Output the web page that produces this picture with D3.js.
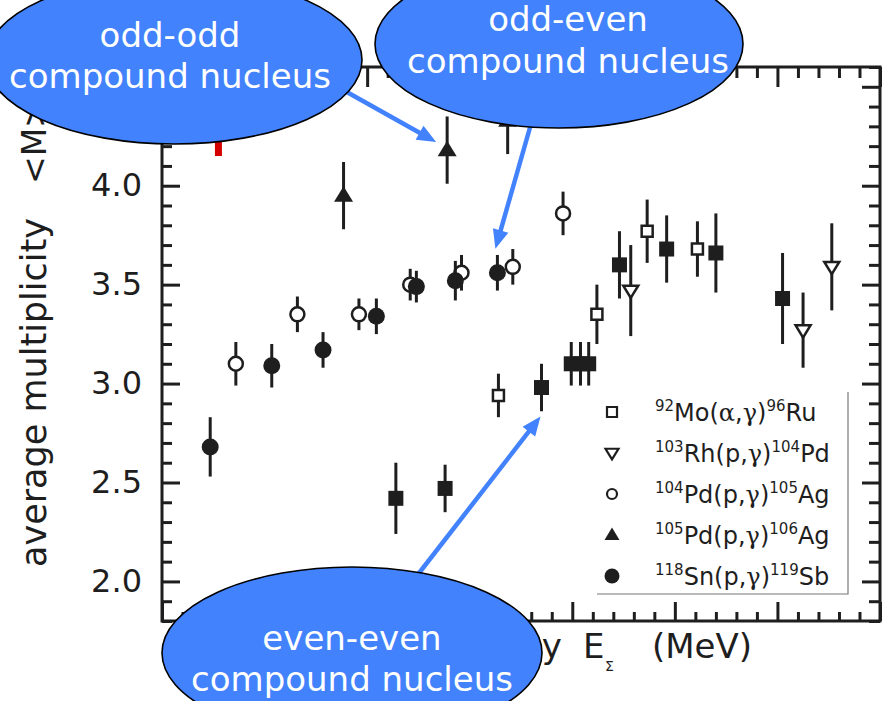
<!DOCTYPE html>
<html>
<head>
<meta charset="utf-8">
<script src="https://cdn.jsdelivr.net/npm/d3@7"></script>
<style>
  html, body { margin: 0; padding: 0; background: #fff; }
  svg { display: block; }
</style>
</head>
<body>
<svg id="chart" width="882" height="701"></svg>
<script>
// Each point: [sum energy E (MeV), average multiplicity <M>, uncertainty]
const moRu = [[8.28, 2.94, 0.11], [9.24, 3.35, 0.15], [9.73, 3.77, 0.16], [10.22, 3.68, 0.14]];
const rhPd = [[9.57, 3.47, 0.23], [11.25, 3.27, 0.19], [11.53, 3.59, 0.22]];
const pdAg105 = [[5.72, 3.10, 0.11], [6.32, 3.35, 0.09], [6.92, 3.35, 0.08], [7.42, 3.50, 0.08],
                 [7.92, 3.56, 0.09], [8.42, 3.59, 0.09], [8.91, 3.86, 0.11]];
const pdAg106 = [[6.77, 3.95, 0.17], [7.78, 4.18, 0.17], [8.37, 4.33, 0.17]];
const snSb = [[5.47, 2.68, 0.15], [6.07, 3.09, 0.11], [6.57, 3.17, 0.09], [7.09, 3.34, 0.09],
              [7.48, 3.49, 0.08], [7.86, 3.52, 0.10], [8.27, 3.56, 0.09]];
const filledSquares = [[7.28, 2.42, 0.18], [7.76, 2.47, 0.12], [8.70, 2.98, 0.12], [8.99, 3.10, 0.11],
                       [9.08, 3.10, 0.11], [9.16, 3.10, 0.11], [9.46, 3.60, 0.17], [9.92, 3.68, 0.17],
                       [10.40, 3.66, 0.20], [11.05, 3.43, 0.23]];
const redPoints = [[5.55, 4.40, 0.25]];

// Axis ticks
const yMajor = [2.0, 2.5, 3.0, 3.5, 4.0, 4.5];
const yLabelled = [2.0, 2.5, 3.0, 3.5, 4.0];
const yTickLabels = ["2.0", "2.5", "3.0", "3.5", "4.0"];
const xMajor = [5, 6, 7, 8, 9, 10, 11, 12];

// Legend text pieces: A, element, projectile, product A, product element
const legTargetA = ["92", "103", "104", "105", "118"];
const legTargetEl = ["Mo", "Rh", "Pd", "Pd", "Sn"];
const legProjectile = ["α", "p", "p", "p", "p"];
const legProductA = ["96", "104", "105", "106", "119"];
const legProductEl = ["Ru", "Pd", "Ag", "Ag", "Sb"];

const SANS = "'DejaVu Sans', Verdana, sans-serif";
const SERIF = "'DejaVu Serif', 'Liberation Serif', serif";
const INK = "#1e1e1e";
const BLUE = "#4282fd";

const svg = d3.select("#chart");
svg.append("rect").attr("width", 882).attr("height", 701).attr("fill", "#fff");

const x = d3.scaleLinear().domain([5, 12]).range([162, 880]);
const y = d3.scaleLinear().domain([1.8, 4.6]).range([621, 67]);

const minorY = d3.range(18, 47).map(d => d / 10).filter(v => !yMajor.some(m => Math.abs(m - v) < 1e-6));
const minorX = d3.range(25, 61).map(d => d / 5).filter(v => !xMajor.some(m => Math.abs(m - v) < 1e-6));

function styleAxis(g) {
  g.select(".domain").remove();
  g.selectAll(".tick line").attr("stroke", INK).attr("stroke-width", 3);
  g.selectAll(".tick text").attr("fill", INK).attr("font-family", SANS).attr("font-size", 32);
}

// Left axis: labelled majors, then the unlabelled top major and minors
svg.append("g").attr("transform", "translate(162,0)")
  .call(d3.axisLeft(y).tickValues(yLabelled).tickFormat((d, i) => yTickLabels[i])
        .tickSizeInner(-18).tickSizeOuter(0).tickPadding(20))
  .call(styleAxis);
svg.append("g").attr("transform", "translate(162,0)")
  .call(d3.axisLeft(y).tickValues(yMajor.filter(v => !yLabelled.includes(v))).tickFormat("")
        .tickSizeInner(-18).tickSizeOuter(0))
  .call(styleAxis);
svg.append("g").attr("transform", "translate(162,0)")
  .call(d3.axisLeft(y).tickValues(minorY).tickFormat("").tickSizeInner(-10).tickSizeOuter(0))
  .call(styleAxis);
// Right axis
svg.append("g").attr("transform", "translate(880,0)")
  .call(d3.axisRight(y).tickValues(yMajor).tickFormat("").tickSizeInner(-18).tickSizeOuter(0))
  .call(styleAxis);
svg.append("g").attr("transform", "translate(880,0)")
  .call(d3.axisRight(y).tickValues(minorY).tickFormat("").tickSizeInner(-11).tickSizeOuter(0))
  .call(styleAxis);
// Bottom axis
svg.append("g").attr("transform", "translate(0,621)")
  .call(d3.axisBottom(x).tickValues(xMajor).tickFormat("").tickSizeInner(-19).tickSizeOuter(0))
  .call(styleAxis);
svg.append("g").attr("transform", "translate(0,621)")
  .call(d3.axisBottom(x).tickValues(minorX).tickFormat("").tickSizeInner(-9).tickSizeOuter(0))
  .call(styleAxis);
// Top axis
svg.append("g").attr("transform", "translate(0,67)")
  .call(d3.axisTop(x).tickValues(xMajor).tickFormat("").tickSizeInner(-20).tickSizeOuter(0))
  .call(styleAxis);
svg.append("g").attr("transform", "translate(0,67)")
  .call(d3.axisTop(x).tickValues(minorX).tickFormat("").tickSizeInner(-11).tickSizeOuter(0))
  .call(styleAxis);

// Frame
svg.append("rect")
  .attr("x", x(5)).attr("y", y(4.6))
  .attr("width", x(12) - x(5)).attr("height", y(1.8) - y(4.6))
  .attr("fill", "none").attr("stroke", INK).attr("stroke-width", 3);

// Axis titles
svg.append("text")
  .attr("transform", "translate(46,567) rotate(-90)")
  .attr("font-family", SANS).attr("font-size", 35).attr("fill", INK)
  .text("average multiplicity");
svg.append("text")
  .attr("transform", "translate(46,184) rotate(-90)")
  .attr("font-family", SANS).attr("font-size", 33).attr("fill", INK)
  .text("<M>");

svg.append("text").attr("x", 562).attr("y", 658).attr("text-anchor", "end")
  .attr("font-family", SANS).attr("font-size", 34).attr("fill", INK).text("sum energy");
svg.append("text").attr("x", 583).attr("y", 658)
  .attr("font-family", SANS).attr("font-size", 34).attr("fill", INK).text("E");
svg.append("text").attr("x", 605).attr("y", 671)
  .attr("font-family", SANS).attr("font-size", 14).attr("fill", INK).text("Σ");
svg.append("text").attr("x", 652).attr("y", 658)
  .attr("font-family", SANS).attr("font-size", 34).attr("fill", INK).text("(MeV)");

// Marker shapes
function triPath(w, up) {
  const h = w * 0.82;
  const s = up ? 1 : -1;
  return `M0,${-s * h * 0.6}L${w / 2},${s * h * 0.4}L${-w / 2},${s * h * 0.4}Z`;
}
function squarePath(a) {
  return `M${-a / 2},${-a / 2}h${a}v${a}h${-a}Z`;
}
function circlePath(r) {
  const p = d3.path();
  p.arc(0, 0, r, 0, 2 * Math.PI);
  p.closePath();
  return p.toString();
}

const seriesDefs = [
  { data: filledSquares, path: squarePath(15), fill: INK, stroke: "none", sw: 0, err: INK, ew: 3 },
  { data: moRu, path: squarePath(11), fill: "#fff", stroke: INK, sw: 2.5, err: INK, ew: 3 },
  { data: rhPd, path: triPath(15, false), fill: "#fff", stroke: INK, sw: 2.5, err: INK, ew: 3 },
  { data: pdAg106, path: triPath(19, true), fill: INK, stroke: "none", sw: 0, err: INK, ew: 3 },
  { data: pdAg105, path: circlePath(7), fill: "#fff", stroke: INK, sw: 2.5, err: INK, ew: 3 },
  { data: snSb, path: circlePath(8.5), fill: INK, stroke: "none", sw: 0, err: INK, ew: 3 },
  { data: redPoints, path: squarePath(12), fill: "#d40000", stroke: "none", sw: 0, err: "#d40000", ew: 7 }
];

const plot = svg.append("g");
seriesDefs.forEach(s => {
  const g = plot.append("g");
  g.selectAll("line").data(s.data).join("line")
    .attr("x1", d => x(d[0])).attr("x2", d => x(d[0]))
    .attr("y1", d => y(d[1] - d[2])).attr("y2", d => y(d[1] + d[2]))
    .attr("stroke", s.err).attr("stroke-width", s.ew);
  g.selectAll("path").data(s.data).join("path")
    .attr("transform", d => `translate(${x(d[0])},${y(d[1])})`)
    .attr("d", s.path)
    .attr("fill", s.fill).attr("stroke", s.stroke).attr("stroke-width", s.sw);
});

// Legend
const legendSymbols = [
  { path: squarePath(10), fill: "#fff", stroke: INK, sw: 2.2 },
  { path: triPath(13, false), fill: "#fff", stroke: INK, sw: 2.2 },
  { path: circlePath(5), fill: "#fff", stroke: INK, sw: 2.2 },
  { path: triPath(15, true), fill: INK, stroke: "none", sw: 0 },
  { path: circlePath(7.5), fill: INK, stroke: "none", sw: 0 }
];
const legend = svg.append("g");
legend.append("path").attr("d", "M597,594H848V392")
  .attr("fill", "none").attr("stroke", "#777").attr("stroke-width", 1.2);
const rowY = d3.scaleLinear().domain([0, 4]).range([412, 576]);
legTargetA.forEach((a, i) => {
  const cy = rowY(i);
  const sym = legendSymbols[i];
  legend.append("path").attr("transform", `translate(612,${cy})`).attr("d", sym.path)
    .attr("fill", sym.fill).attr("stroke", sym.stroke).attr("stroke-width", sym.sw);
  const t = legend.append("text").attr("x", 655).attr("y", cy + 9)
    .attr("font-family", SANS).attr("font-size", 24).attr("fill", INK);
  t.append("tspan").attr("font-size", 15).attr("dy", -10).text(a);
  t.append("tspan").attr("dy", 10).text(legTargetEl[i] + "(");
  if (legProjectile[i] === "α") {
    t.append("tspan").attr("font-family", SERIF).text("α");
  } else {
    t.append("tspan").text(legProjectile[i]);
  }
  t.append("tspan").text(",");
  t.append("tspan").attr("font-family", SERIF).text("γ");
  t.append("tspan").text(")");
  t.append("tspan").attr("font-size", 15).attr("dy", -10).text(legProductA[i]);
  t.append("tspan").attr("dy", 10).text(legProductEl[i]);
});

// Callout arrows: from a callout edge to a marked data point
const arrows = [
  { from: [345, 91], pt: pdAg106[1], off: [-11, -8] },
  { from: [531, 124], pt: snSb[6], off: [-2, -24] },
  { from: [416, 577], pt: filledSquares[2], off: [-1, 29] }
];
const arrowG = svg.append("g");
arrows.forEach(a => {
  const tx = x(a.pt[0]) + a.off[0], ty = y(a.pt[1]) + a.off[1];
  const dx = tx - a.from[0], dy = ty - a.from[1];
  const len = Math.hypot(dx, dy), ux = dx / len, uy = dy / len;
  const head = 19, half = 8;
  const bx = tx - ux * head, by = ty - uy * head;
  arrowG.append("line").attr("x1", a.from[0]).attr("y1", a.from[1]).attr("x2", bx + ux * 2).attr("y2", by + uy * 2)
    .attr("stroke", BLUE).attr("stroke-width", 4.5);
  arrowG.append("path")
    .attr("d", `M${tx},${ty}L${bx - uy * half},${by + ux * half}L${bx + uy * half},${by - ux * half}Z`)
    .attr("fill", BLUE);
});

// Callout ellipses
const callouts = [
  { cx: 174, cy: 60, rx: 188, ry: 84, lines: ["odd-odd", "compound nucleus"], base: [47, 88], tx: 170 },
  { cx: 559, cy: 44, rx: 184, ry: 84, lines: ["odd-even", "compound nucleus"], base: [31, 73], tx: 568 },
  { cx: 352, cy: 653, rx: 190, ry: 86, lines: ["even-even", "compound nucleus"], base: [650, 691], tx: 352 }
];
const calloutG = svg.append("g");
callouts.forEach(c => {
  calloutG.append("ellipse").attr("cx", c.cx).attr("cy", c.cy).attr("rx", c.rx).attr("ry", c.ry)
    .attr("fill", BLUE).attr("stroke", "#000").attr("stroke-width", 1.6);
  c.lines.forEach((ln, i) => {
    calloutG.append("text").attr("x", c.tx).attr("y", c.base[i]).attr("text-anchor", "middle")
      .attr("font-family", SANS).attr("font-size", 34).attr("fill", "#fff").text(ln);
  });
});
</script>
</body>
</html>
